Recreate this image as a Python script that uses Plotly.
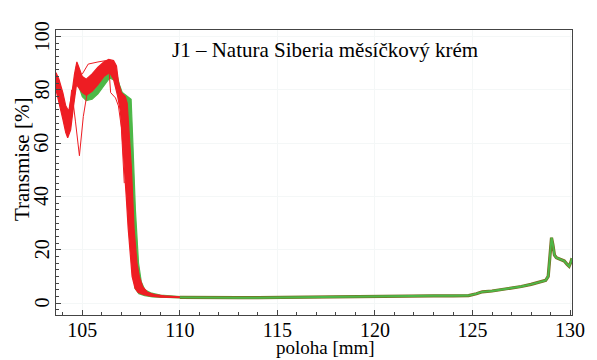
import plotly.graph_objects as go

# ---- data ----
# red band: upper/right envelope
red_up_x = [103.65, 103.8, 104.0, 104.15, 104.3, 104.45, 104.6, 104.72, 104.85, 105.0, 105.2, 105.5, 105.8,
            106.1, 106.35, 106.6, 106.75, 106.85, 107.0, 107.2, 107.3, 107.42, 107.52, 107.65, 107.8, 107.92,
            108.1, 108.35, 108.7, 109.2, 110.0]
red_up_y = [86.5, 84, 79, 74, 72, 78, 86, 90.5, 88, 85, 84, 86, 88.5,
            90.5, 91.5, 91, 89, 83, 79, 77.5, 75, 62, 50, 28, 15, 10,
            6, 4, 3.2, 2.7, 2.3]
# red band: lower/left envelope
red_lo_x = [103.65, 103.8, 104.0, 104.15, 104.25, 104.4, 104.55, 104.7, 104.85, 105.0, 105.2, 105.5, 105.8,
            106.1, 106.4, 106.6, 106.8, 106.95, 107.05, 107.15, 107.25, 107.35, 107.45, 107.55, 107.7, 107.85,
            108.1, 108.5, 109.0, 110.0]
red_lo_y = [80, 76, 69, 64, 62, 65, 74, 82, 80.5, 79, 78, 79.5, 82,
            85, 86.5, 84, 78, 72, 62, 53, 40, 28, 18, 10, 5.5, 4,
            3.2, 2.6, 2.2, 2.0]
# green band: upper/right envelope
grn_up_x = [103.65, 104.0, 104.25, 104.45, 104.7, 105.0, 105.2, 105.5, 105.8, 106.1, 106.4, 106.7, 106.9,
            107.05, 107.5, 107.58, 107.72, 107.88, 108.02, 108.2, 108.5, 109.0, 110.0]
grn_up_y = [85, 76, 70, 76, 89, 83, 81.5, 83, 85.5, 87.5, 89, 88, 82,
            79, 76.5, 62, 35, 15, 8, 5, 3.8, 3, 2.4]
# green band: lower/left envelope
grn_lo_x = [103.65, 104.0, 104.25, 104.45, 104.7, 105.0, 105.2, 105.5, 105.8, 106.1, 106.4, 106.7, 106.85,
            107.0, 107.25, 107.4, 107.55, 107.7, 107.9, 108.2, 108.6, 110.0]
grn_lo_y = [82, 71, 66, 70, 84, 77.5, 76, 76.5, 78.5, 81.5, 84.5, 83.5, 80,
            77, 70, 45, 20, 5.5, 3.5, 2.8, 2.3, 1.9]
# common tail of all curves
tail_x = [110, 111, 112, 113, 114, 115, 116, 117, 118, 119, 120, 121, 122, 123, 124, 124.8, 125.2, 125.5,
          126, 126.5, 127, 127.5, 128, 128.4, 128.75, 128.88, 128.97, 129.05, 129.12, 129.2, 129.3, 129.5,
          129.7, 129.85, 129.95, 130.05, 130.1]
tail_y = [2.1, 2.0, 2.0, 2.0, 2.0, 2.1, 2.2, 2.2, 2.3, 2.4, 2.5, 2.6, 2.6, 2.7, 2.7, 2.8, 3.5, 4.2,
          4.5, 5.0, 5.5, 6.2, 7.0, 7.8, 8.5, 10, 18, 24.5, 22, 18, 17, 16.5,
          15.8, 14.5, 13.8, 15.5, 16.8]
# thin outlier red curves
out1_x = [103.65, 104.0, 104.25, 104.45, 104.65, 104.85, 105.05, 105.25, 105.6]
out1_y = [83, 72, 66, 80, 68, 55.3, 70, 79, 81]
out2_x = [105.0, 105.3, 105.8, 106.2, 106.35, 106.45, 106.7, 106.85, 107.0, 107.15]
out2_y = [86, 89.7, 90.5, 91, 89.5, 79, 77, 74, 66, 45]

title_text = "J1 \u2013 Natura Siberia m\u011bs\u00ed\u010dkov\u00fd kr\u00e9m"
x_ticks = [105, 110, 115, 120, 125, 130]
y_ticks = [0, 20, 40, 60, 80, 100]

RED = "#ee1d23"
GREEN = "#4db848"
SERIF = "Liberation Serif, Times New Roman, serif"

fig = go.Figure()

def band(xu, yu, xl, yl, color):
    xs = list(xu) + list(xl)[::-1]
    ys = list(yu) + list(yl)[::-1]
    fig.add_trace(go.Scatter(x=xs, y=ys, mode="lines", fill="toself", fillcolor=color,
                             line=dict(color=color, width=1.2), hoverinfo="skip", showlegend=False))

band(grn_up_x, grn_up_y, grn_lo_x, grn_lo_y, GREEN)
band(red_up_x, red_up_y, red_lo_x, red_lo_y, RED)

fig.add_trace(go.Scatter(x=out1_x, y=out1_y, mode="lines", line=dict(color=RED, width=1),
                         showlegend=False))
fig.add_trace(go.Scatter(x=out2_x, y=out2_y, mode="lines", line=dict(color=RED, width=1),
                         showlegend=False))
fig.add_trace(go.Scatter(x=tail_x, y=tail_y, mode="lines", line=dict(color="#7a6a20", width=3.2),
                         showlegend=False))
fig.add_trace(go.Scatter(x=tail_x, y=tail_y, mode="lines", line=dict(color=GREEN, width=1.9),
                         showlegend=False))

fig.add_annotation(x=0.522, y=0.93, xref="paper", yref="paper", text=title_text, showarrow=False,
                   font=dict(family=SERIF, size=21, color="black"), xanchor="center", yanchor="middle")
fig.add_annotation(x=0.522, y=-0.158, xref="paper", yref="paper", text="poloha [mm]", showarrow=False,
                   font=dict(family=SERIF, size=19, color="black"), xanchor="center", yanchor="bottom")
fig.add_annotation(x=-0.066, y=0.547, xref="paper", yref="paper", text="Transmise [%]", showarrow=False,
                   textangle=-90, font=dict(family=SERIF, size=21, color="black"),
                   xanchor="center", yanchor="middle")
# rotated y tick labels
for v in y_ticks:
    fig.add_annotation(x=-0.028, y=v, xref="paper", yref="y", text=str(v), showarrow=False,
                       textangle=-90, font=dict(family=SERIF, size=20, color="black"),
                       xanchor="center", yanchor="middle")

fig.update_xaxes(range=[103.65, 130.1], tickvals=x_ticks, ticktext=[str(v) for v in x_ticks],
                 ticks="inside", ticklen=5, tickcolor="#444", showline=True, linecolor="#444",
                 linewidth=1, mirror=True, showgrid=True, gridcolor="#f4f7f7", zeroline=False,
                 ticklabeloverflow="allow", ticklabelstandoff=-3,
                 tickfont=dict(family=SERIF, size=20, color="black"),
                 minor=dict(dtick=1, ticks="inside", ticklen=3, tickcolor="#444", showgrid=False))
fig.update_yaxes(range=[-4.5, 102.5], tickvals=y_ticks, showticklabels=False,
                 ticks="inside", ticklen=5, tickcolor="#444", showline=True, linecolor="#444",
                 linewidth=1, mirror=True, showgrid=True, gridcolor="#f4f7f7", zeroline=False,
                 minor=dict(dtick=2.5, ticks="inside", ticklen=3, tickcolor="#444", showgrid=False))

fig.update_layout(width=597, height=360, margin=dict(l=56, r=12, t=30, b=45),
                  plot_bgcolor="white", paper_bgcolor="white")

fig.write_html("out.html", config={"displayModeBar": False},
               post_script="document.body.style.margin='0px';")
